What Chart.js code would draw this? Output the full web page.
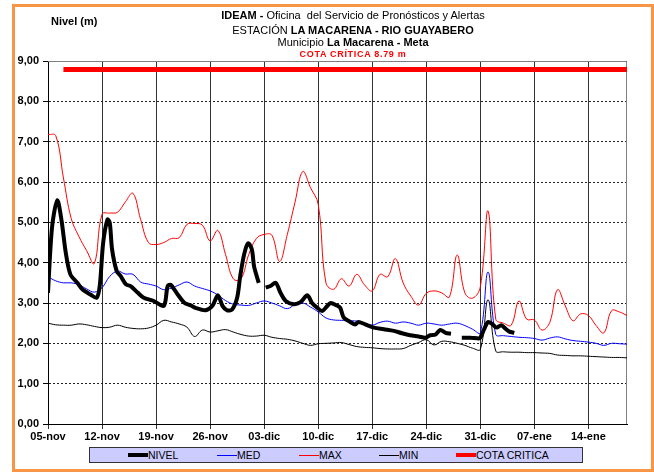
<!DOCTYPE html>
<html>
<head>
<meta charset="utf-8">
<script src="https://cdn.jsdelivr.net/npm/chart.js@4.4.0/dist/chart.umd.min.js"></script>
<style>
  body { margin: 0; background: #fff; }
  #wrap { position: relative; width: 654px; height: 472px; overflow: hidden; font-family: 'Liberation Sans', Arial, sans-serif; color: #000; }
  #marco { position: absolute; left: 12px; top: 4px; width: 642px; height: 468px; box-sizing: border-box; border: 3px solid #F79646; }
  canvas { position: absolute; left: 0; top: 0; }
  .titulo { position: absolute; left: 203px; width: 300px; text-align: center; font-size: 11px; line-height: 13px; white-space: pre; }
  .cota { color: #FF0000; font-weight: bold; font-size: 9px; line-height: 10px; letter-spacing: 0.7px; }
  #eje-y { position: absolute; left: 51px; top: 15px; font-size: 11px; font-weight: bold; }
  #leyenda { position: absolute; left: 89px; top: 447px; width: 494px; height: 16px; box-sizing: border-box; border: 1px solid #333; background: #CCCCFF; }
  .item { position: absolute; top: 0; height: 14px; display: flex; align-items: center; font-size: 10.5px; white-space: nowrap; }
  .item i { display: inline-block; width: 20px; height: 0; }
</style>
</head>
<body>
<div id="wrap">
  <div id="marco"></div>
  <canvas id="grafico" width="654" height="472"></canvas>
  <div class="titulo" style="top:9px"><b>IDEAM - </b>Oficina  del Servicio de Pronósticos y Alertas</div>
  <div class="titulo" style="top:24px">ESTACIÓN <b>LA MACARENA - RIO GUAYABERO</b></div>
  <div class="titulo" style="top:36px">Municipio <b>La Macarena - Meta</b></div>
  <div class="titulo cota" style="top:49px">COTA CRÍTICA 8.79 m</div>
  <div id="eje-y">Nivel (m)</div>
  <div id="leyenda">
    <span class="item" style="left:38px"><i style="border-top:4px solid #000"></i>NIVEL</span>
    <span class="item" style="left:127px"><i style="border-top:1px solid #0000FF"></i>MED</span>
    <span class="item" style="left:209px"><i style="border-top:1px solid #FF0000"></i>MAX</span>
    <span class="item" style="left:289px"><i style="border-top:1px solid #000"></i>MIN</span>
    <span class="item" style="left:366px"><i style="border-top:4px solid #FF0000"></i>COTA CRITICA</span>
  </div>
</div>
<script>
// etiquetas semanales del eje x (cada 7 días desde el 05-nov)
const etiquetasX = ['05-nov', '12-nov', '19-nov', '26-nov', '03-dic', '10-dic', '17-dic', '24-dic', '31-dic', '07-ene', '14-ene'];

// días desde el 05-nov para las series históricas diarias
const dias = [
  0, 1, 2, 3, 4, 5, 6, 7, 8, 9, 10, 11, 12, 13, 14, 15, 16, 17, 18, 19,
  20, 21, 22, 23, 24, 25, 26, 27, 28, 29, 30, 31, 32, 33, 34, 35, 36, 37, 38, 39,
  40, 41, 42, 43, 44, 45, 46, 47, 48, 49, 50, 51, 52, 53, 54, 55, 56, 57, 58, 59,
  60, 61, 62, 63, 64, 65, 66, 67, 68, 69, 70, 71, 72, 73, 74, 75
];

const maximos = [
  7.18, 7.15, 6.10, 5.10, 4.65, 4.30, 3.98, 5.20, 5.23, 5.25, 5.50, 5.72, 5.07, 4.50, 4.45, 4.50, 4.60, 4.62, 4.95, 4.97,
  4.93, 4.54, 4.80, 4.20, 3.60, 3.60, 4.20, 4.60, 4.70, 4.68, 4.03, 4.70, 5.50, 6.26, 5.86, 5.45, 3.50, 3.34, 3.60, 3.42,
  3.71, 3.45, 3.30, 3.71, 3.65, 4.10, 3.50, 3.17, 2.95, 3.24, 3.30, 3.25, 3.15, 4.19, 3.25, 3.12, 3.40, 5.28, 2.60, 2.50,
  2.45, 3.05, 2.60, 2.58, 2.33, 2.52, 3.33, 2.93, 2.56, 2.73, 2.69, 2.44, 2.26, 2.81, 2.78, 2.69
];

const medios = [
  3.65, 3.55, 3.50, 3.50, 3.45, 3.35, 3.27, 3.38, 3.66, 3.79, 3.72, 3.71, 3.52, 3.47, 3.42, 3.33, 3.37, 3.45, 3.52, 3.42,
  3.36, 3.30, 3.20, 3.06, 2.97, 2.95, 2.94, 3.00, 3.05, 3.00, 2.93, 2.86, 2.96, 3.00, 2.90, 2.78, 2.63, 2.58, 2.57, 2.56,
  2.55, 2.50, 2.45, 2.52, 2.55, 2.50, 2.53, 2.50, 2.45, 2.50, 2.48, 2.45, 2.48, 2.50, 2.44, 2.35, 2.26, 3.77, 2.22, 2.19,
  2.17, 2.15, 2.14, 2.12, 2.08, 2.13, 2.16, 2.11, 2.07, 2.05, 2.03, 2.00, 1.95, 2.00, 1.99, 1.98
];

const minimos = [
  2.50, 2.46, 2.45, 2.45, 2.48, 2.46, 2.42, 2.39, 2.40, 2.45, 2.40, 2.37, 2.36, 2.38, 2.45, 2.57, 2.53, 2.48, 2.40, 2.17,
  2.33, 2.28, 2.31, 2.34, 2.28, 2.22, 2.18, 2.18, 2.20, 2.15, 2.12, 2.10, 2.06, 2.00, 1.95, 1.99, 2.00, 2.01, 2.02, 1.97,
  1.92, 1.90, 1.89, 1.87, 1.86, 1.86, 1.87, 1.95, 2.02, 2.09, 1.96, 2.05, 2.04, 2.00, 1.95, 1.88, 1.85, 3.08, 1.81, 1.79,
  1.78, 1.78, 1.77, 1.77, 1.76, 1.75, 1.71, 1.70, 1.69, 1.69, 1.68, 1.67, 1.66, 1.65, 1.65, 1.64
];

// lecturas del nivel observado (días fraccionarios, null = sin dato)
const nivelDias = [
  0, 0.3, 0.6, 1.2, 1.75, 2.3, 2.9, 3.8, 4.45, 5.5, 6.3, 6.7, 7.15, 7.7, 8.0, 8.3, 8.9, 9.4, 10.1, 10.7,
  11.6, 12.4, 13.7, 15.0, 15.5, 15.9, 16.8, 17.7, 18.5, 19.1, 20.4, 21.3, 22.0, 22.6, 23.2, 23.85, 24.5, 24.9, 25.4, 25.9,
  26.4, 26.7, 27.3, 27.75, 28.2, 28.8, 29.5, 30.1, 30.8, 31.85, 32.7, 33.6, 34.2, 34.9, 35.5, 36.2, 36.6, 37.4, 37.85, 38.3,
  39.15, 39.8, 40.2, 41.1, 42.2, 43.5, 44.8, 45.85, 46.9, 48.0, 48.9, 49.5, 50.2, 50.8, 51.5, 52.2, 52.9, 53.6, 54.7, 55.8,
  56.0, 56.5, 57.0, 57.6, 58.1, 58.7, 59.1, 59.75, 60.4
];
const nivelValores = [
  3.25, 4.30, 5.00, 5.55, 5.05, 4.25, 3.71, 3.50, 3.34, 3.21, 3.13, 3.42, 4.50, 5.07, 4.99, 4.33, 3.79, 3.67, 3.46, 3.42,
  3.26, 3.13, 3.05, 2.93, 3.42, 3.45, 3.21, 3.00, 2.94, 2.88, 2.82, 2.93, 3.19, 2.93, 2.82, 2.84, 3.13, 3.67, 4.20, 4.48,
  4.33, 3.90, 3.50, null, 3.38, 3.42, 3.50, 3.26, 3.05, 2.97, 3.02, 3.19, 3.00, 2.88, 2.80, 2.93, 3.00, 2.94, 2.88, 2.64,
  2.53, 2.47, 2.53, 2.47, 2.39, 2.35, 2.31, 2.25, 2.20, 2.17, 2.14, 2.20, 2.22, 2.33, 2.26, 2.24, null, 2.14, 2.14, 2.12,
  2.14, 2.35, 2.53, 2.47, 2.39, 2.45, 2.39, 2.29, 2.26
];

// cota crítica de la estación
const cotaCritica = 8.79;
const cotaDias = [2, 75];

const puntos = (xs, ys) => xs.map((x, i) => ({ x, y: ys[i] }));

// marco gris superior y derecho del área de trazado
const marcoGrafico = {
  id: 'marcoGrafico',
  beforeDatasetsDraw(chart) {
    const { ctx, chartArea: { left, top, right, bottom } } = chart;
    ctx.save();
    ctx.strokeStyle = '#808080';
    ctx.lineWidth = 1;
    ctx.beginPath();
    ctx.moveTo(left, top + 0.5);
    ctx.lineTo(right - 0.5, top + 0.5);
    ctx.lineTo(right - 0.5, bottom);
    ctx.stroke();
    ctx.restore();
  },
};

const fuenteEje = { family: "'Liberation Sans', Arial, sans-serif", size: 11, weight: 'bold' };

new Chart(document.getElementById('grafico'), {
  type: 'line',
  data: {
    datasets: [
      {
        label: 'NIVEL',
        data: puntos(nivelDias, nivelValores),
        borderColor: '#000000',
        borderWidth: 4,
        tension: 0.3,
        spanGaps: false,
      },
      {
        label: 'MED',
        data: puntos(dias, medios),
        borderColor: '#0000FF',
        borderWidth: 1,
        tension: 0.4,
      },
      {
        label: 'MAX',
        data: puntos(dias, maximos),
        borderColor: '#FF0000',
        borderWidth: 1,
        tension: 0.4,
      },
      {
        label: 'MIN',
        data: puntos(dias, minimos),
        borderColor: '#000000',
        borderWidth: 1,
        tension: 0.4,
      },
      {
        label: 'COTA CRITICA',
        data: cotaDias.map(x => ({ x, y: cotaCritica })),
        borderColor: '#FF0000',
        borderWidth: 5,
      },
    ],
  },
  options: {
    responsive: false,
    animation: false,
    devicePixelRatio: 1,
    layout: { padding: { top: 61, right: 27, bottom: 0, left: 0 } },
    elements: { point: { radius: 0 } },
    plugins: {
      legend: { display: false },
      tooltip: { enabled: false },
    },
    scales: {
      x: {
        type: 'linear',
        min: 0,
        max: 75,
        afterFit: scale => { scale.height = 48; },
        grid: { color: '#333333', tickLength: 5, tickColor: '#333333' },
        border: { color: '#000000' },
        ticks: {
          stepSize: 7,
          includeBounds: false,
          autoSkip: false,
          maxRotation: 0,
          padding: 1,
          color: '#000000',
          font: fuenteEje,
          callback: value => etiquetasX[value / 7] ?? '',
        },
      },
      y: {
        min: 0,
        max: 9,
        afterFit: scale => { scale.width = 48; },
        grid: { color: '#222222', tickLength: 5, tickColor: '#000000', tickBorderDash: [] },
        border: { color: '#000000', dash: [2, 2] },
        ticks: {
          stepSize: 1,
          padding: 4,
          color: '#000000',
          font: fuenteEje,
          callback: value => value.toFixed(2).replace('.', ','),
        },
      },
    },
  },
  plugins: [marcoGrafico],
});
</script>
</body>
</html>
